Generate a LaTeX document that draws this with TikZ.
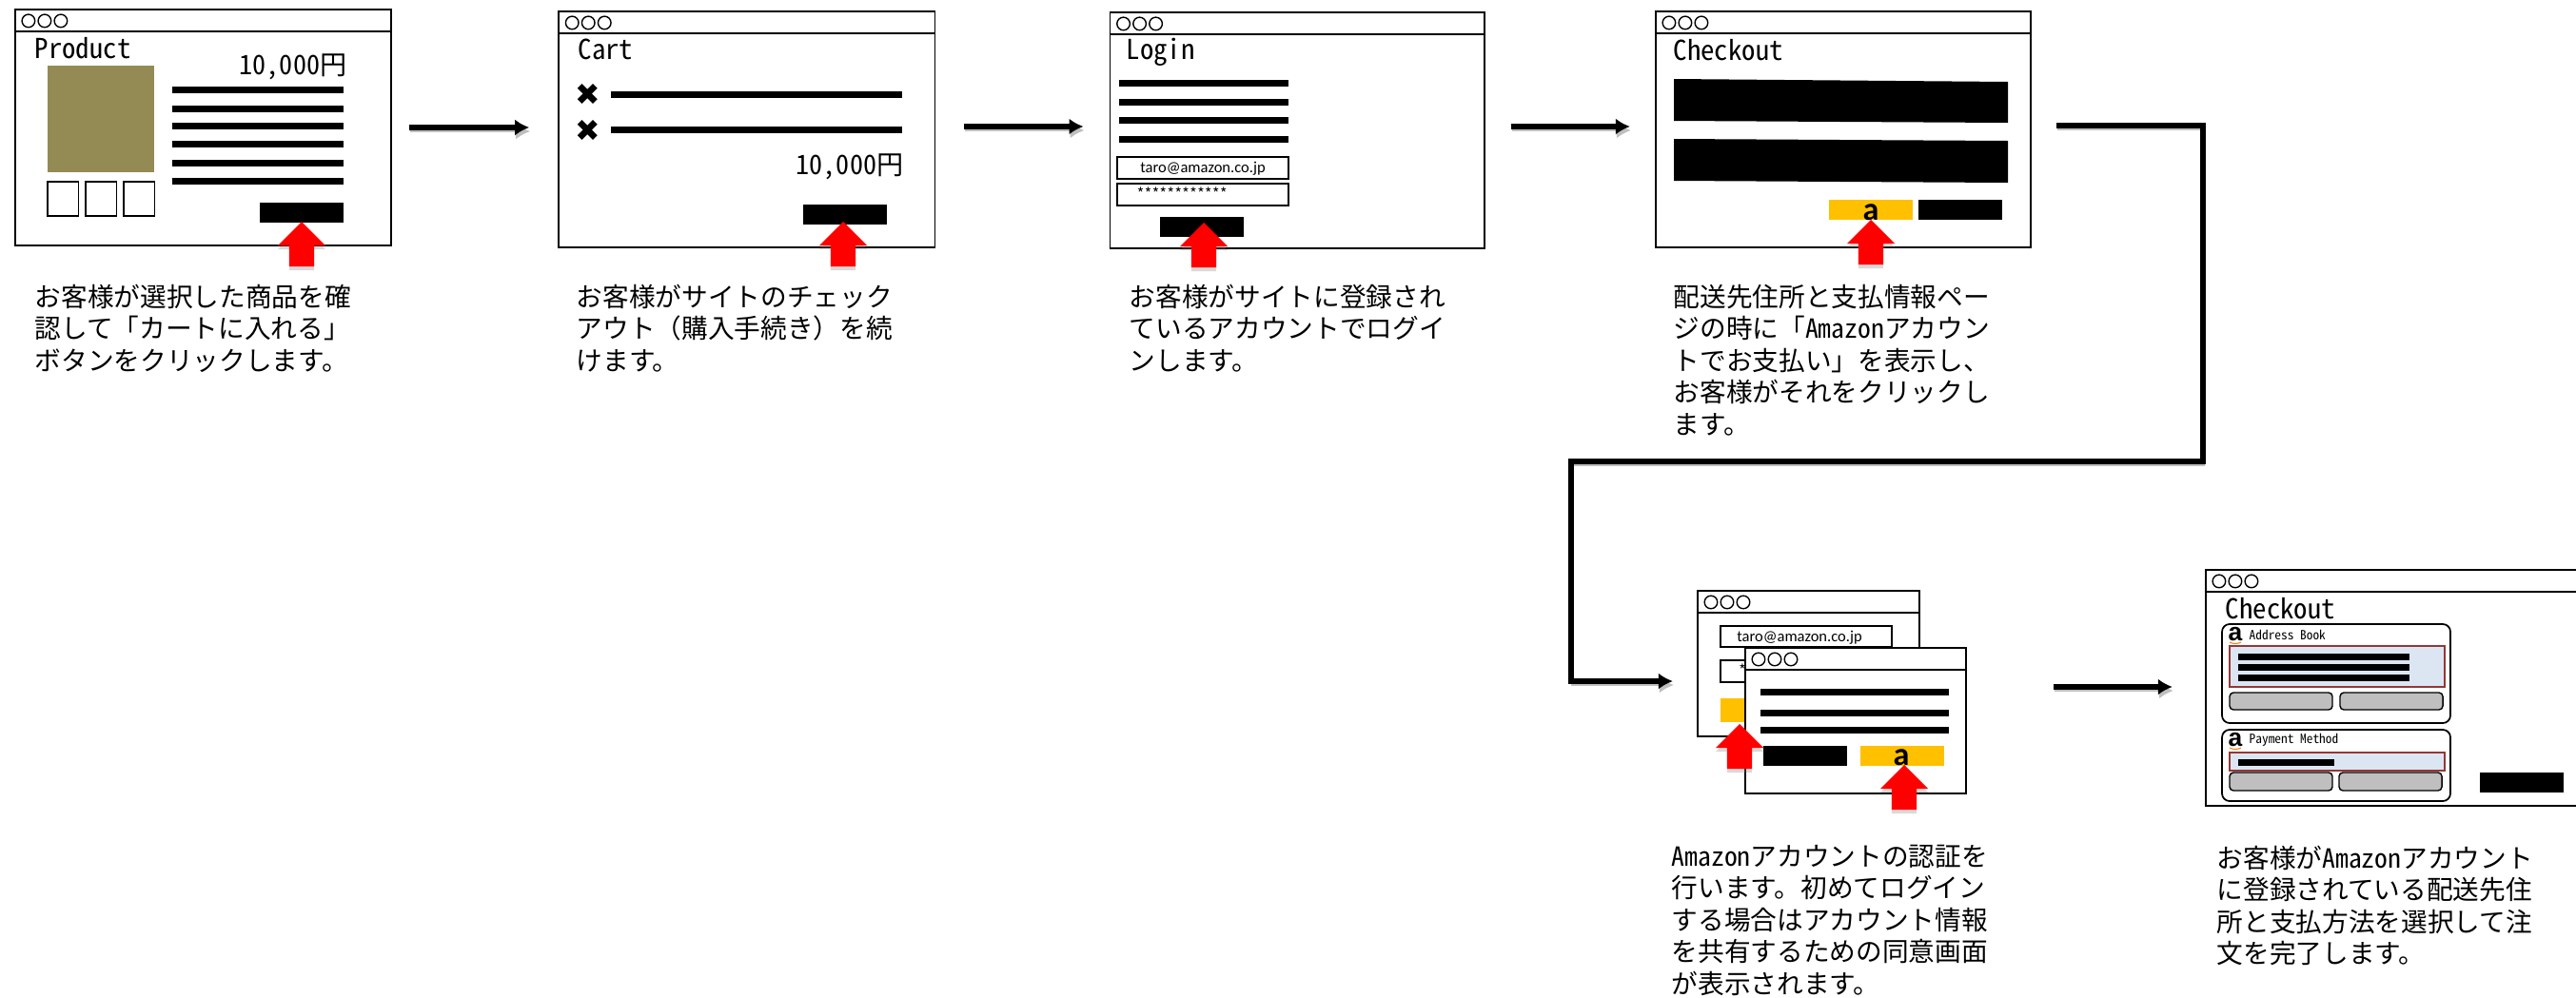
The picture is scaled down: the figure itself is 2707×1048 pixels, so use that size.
\documentclass[tikz,border=0pt]{standalone}
\usepackage{fontspec}
\setmainfont[RawFeature=+hwid]{Noto Sans CJK JP}
\newfontfamily\fullfont{Noto Sans CJK JP}
\newfontfamily\symfont{DejaVu Sans}
\newfontfamily\logofont{Liberation Sans}
\newfontfamily\mailfont{Carlito}
\usetikzlibrary{positioning, arrows.meta, shadows, shapes.arrows}
\definecolor{photo}{HTML}{948B54}
\definecolor{paybtn}{HTML}{FFC000}
\definecolor{picked}{HTML}{DCE6F2}
\definecolor{pickedline}{HTML}{953735}
\definecolor{graybtn}{HTML}{BFBFBF}
\newcommand{\winbar}[1]{%
    \draw[line width=.8pt] ([yshift=-.23cm]#1.north west) -- ([yshift=-.23cm]#1.north east);
    \foreach \dx in {.14,.31,.48}
        \draw[line width=.4pt] ([xshift=\dx cm, yshift=-.12cm]#1.north west) circle (.068cm);
}
\begin{document}
\begin{tikzpicture}[>={Latex[length=.15cm,width=.17cm]}, x=.01cm, y=-.01cm]
    \tikzset{window/.style = {draw, rectangle, fill=white, line width=.45pt, outer sep=0pt, inner sep=0pt,
                              minimum width = 3.95cm, minimum height = 2.48cm},
             title/.style = {anchor=west, inner sep=0pt, font=\fontsize{8.2}{9}\selectfont},
             price/.style = {anchor=east, inner sep=0pt, font=\fontsize{8}{9}\selectfont},
             note/.style = {anchor=north west, inner sep=0pt, align=left, font=\fontsize{7.87}{9.55}\selectfont},
             field/.style = {draw, fill=white, line width=.5pt},
             bar/.style = {line width=.07cm},
             flow/.style = {->, line width=.055cm,
                            preaction={draw=black!25, transform canvas={shift={(.01cm,-.04cm)}}}},
             clickarrow/.style = {single arrow, fill=red, anchor=tip, shape border rotate=90, inner sep=.125cm,
                                  outer sep=0pt, minimum height=.47cm, minimum width=.49cm,
                                  single arrow head extend=.12cm, single arrow head indent=0pt,
                                  drop shadow={shadow xshift=0pt, shadow yshift=-.04cm, opacity=.3}},
             mailtext/.style = {inner sep=0pt, font=\mailfont\fontsize{4.7}{6}\selectfont},
             amzlogo/.style = {inner sep=0pt, font=\logofont\bfseries\fontsize{7.5}{9}\selectfont},
             paymark/.style = {inner sep=0pt, font=\mailfont\bfseries\fontsize{9.7}{10}\selectfont},
             caption/.style = {anchor=west, inner sep=0pt, font=\fontsize{3.8}{5}\selectfont},
             softbtn/.style = {draw, fill=graybtn, rounded corners=.04cm, line width=.4pt},
             panel/.style = {draw, fill=white, rounded corners=.08cm, line width=.5pt},
             pick/.style = {draw=pickedline, fill=picked, line width=.8pt}
            }
    \useasboundingbox (0,0) rectangle (2707,1048);

    \node (product) [window] at (213.5,134) {};
    \node (cart) [window, right=1.76cm of product, yshift=-.02cm] {};
    \node (login) [window, minimum width=3.93cm, right=1.84cm of cart, yshift=-.01cm] {};
    \node (checkout) [window, minimum width=3.94cm, right=1.80cm of login, yshift=.01cm] {};
    \node (authback) [window, minimum width=2.33cm, minimum height=1.53cm] at (1900.5,697.5) {};
    \node (confirm) [window, minimum width=3.94cm] at (2515,723) {};

    \winbar{product}
    \node (producttitle) [title] at (36,51) {Product};
    \fill[photo] (50,69) rectangle (162,181);
    \foreach \x in {50,90,130}
        \draw[line width=.4pt] (\x,191) rectangle ++(32.5,36);
    \node (productprice) [price] at (365,70) {10,000円};
    \foreach \y in {94,114,132,151,171,190}
        \draw[bar] (180.5,\y) -- (361,\y);
    \fill (273,213) rectangle (361,234);
    \node (productclick) [clickarrow] at (317,233) {};
    \node (productnote) [note] at (36,298) {お客様が選択した商品を確\\認して「カートに入れる」\\ボタンをクリックします。};

    \winbar{cart}
    \node (carttitle) [title] at (607,52) {Cart};
    \node (crossA) [inner sep=0pt, font=\symfont\fontsize{9}{10}\selectfont] at (618,99) {✖};
    \node (crossB) [inner sep=0pt, font=\symfont\fontsize{9}{10}\selectfont] at (618,137) {✖};
    \draw[bar] (642,99) -- (948,99);
    \draw[bar] (642,136) -- (948,136);
    \node (cartprice) [price] at (950,175) {10,000円};
    \fill (844,215) rectangle (932,236);
    \node (cartclick) [clickarrow] at (886,233) {};
    \node (cartnote) [note] at (605,298) {お客様がサイトのチェック\\アウト{\fullfont（}購入手続き{\fullfont）}を続\\けます。};

    \winbar{login}
    \node (logintitle) [title] at (1183,55) {Login};
    \foreach \y in {87,107,126,146}
        \draw[bar] (1176,\y) -- (1354,\y);
    \draw[field] (1174,165) rectangle (1354,188);
    \draw[field] (1174,193) rectangle (1354,216);
    \node (loginmail) [mailtext] at (1264,177) {taro@amazon.co.jp};
    \node (loginpass) [anchor=west, inner sep=0pt, font=\fontsize{4.5}{6}\selectfont] at (1194,203) {************};
    \fill (1219,228) rectangle (1307,249);
    \node (loginclick) [clickarrow] at (1265,234) {};
    \node (loginnote) [note] at (1186,298) {お客様がサイトに登録され\\ているアカウントでログイ\\ンします。};

    \winbar{checkout}
    \node (checkouttitle) [title] at (1758,53) {Checkout};
    \fill (1759,83) -- (2110,86) -- (2110,129) -- (1759,127) -- cycle;
    \fill (1759,146) -- (2110,148) -- (2110,192) -- (1759,190) -- cycle;
    \fill[paybtn] (1922,210) rectangle (2010,231);
    \fill (2016,210) rectangle (2104,231);
    \node (checkoutpay) [paymark] at (1966,223) {a};
    \node (checkoutclick) [clickarrow] at (1966,231) {};
    \node (checkoutnote) [note] at (1758,298) {配送先住所と支払情報ペー\\ジの時に「Amazonアカウン\\トでお支払い」を表示し、\\お客様がそれをクリックし\\ます。};

    \winbar{authback}
    \draw[field] (1808,658) rectangle (1988,680);
    \node (authmail) [mailtext] at (1891,670) {taro@amazon.co.jp};
    \draw[field] (1808,694) rectangle (1988,717);
    \node (authpass) [inner sep=0pt, font=\fontsize{4.5}{6}\selectfont] at (1831,704) {*};
    \fill[paybtn] (1808,734) rectangle (1896,759);
    \node (consent) [window, minimum width=2.32cm, minimum height=1.53cm] at (1950,757.5) {};
    \winbar{consent}
    \foreach \y in {727,749,767}
        \draw[bar] (1850,\y) -- (2048,\y);
    \fill (1853,784) rectangle (1941,805);
    \fill[paybtn] (1955,784) rectangle (2043,805);
    \node (consentpay) [paymark] at (1998,796) {a};
    \node (authclick) [clickarrow] at (1828,761) {};
    \node (consentclick) [clickarrow] at (2001,804) {};
    \node (authnote) [note] at (1756,887) {Amazonアカウントの認証を\\行います。初めてログイン\\する場合はアカウント情報\\を共有するための同意画面\\が表示されます。};

    \winbar{confirm}
    \node (confirmtitle) [title] at (2338,640) {Checkout};
    \draw[panel] (2335,656) rectangle (2575,760);
    \node (logoA) [amzlogo] at (2349,667) {a};
    \draw[orange, line width=.3pt] (2343,675) .. controls (2347,677) and (2351,677) .. (2355,675);
    \node (addressbook) [caption] at (2363,667) {Address Book};
    \draw[pick] (2343,679) rectangle (2569,722);
    \foreach \y in {690,701,712}
        \draw[bar] (2352,\y) -- (2532,\y);
    \draw[softbtn] (2343,728) rectangle (2451,746);
    \draw[softbtn] (2459,728) rectangle (2567,746);
    \draw[panel] (2335,767) rectangle (2575,842);
    \node (logoB) [amzlogo] at (2349,778) {a};
    \draw[orange, line width=.3pt] (2343,786) .. controls (2347,788) and (2351,788) .. (2355,786);
    \node (paymethod) [caption] at (2363,778) {Payment Method};
    \draw[pick] (2343,791) rectangle (2569,810);
    \draw[bar] (2352,801) -- (2453,801);
    \draw[softbtn] (2343,812) rectangle (2451,831);
    \draw[softbtn] (2458,812) rectangle (2566,831);
    \fill (2606,812) rectangle (2694,833);
    \node (confirmnote) [note] at (2329,888) {お客様がAmazonアカウント\\に登録されている配送先住\\所と支払方法を選択して注\\文を完了します。};

    \coordinate (bendA) at (2315,132);
    \coordinate (bendB) at (2315,485);
    \coordinate (bendC) at (1651,485);
    \draw[flow, shorten <=.19cm, shorten >=.31cm] (product.east) -- (product.east -| cart.west);
    \draw[flow, shorten <=.31cm, shorten >=.28cm] ([yshift=.03cm]cart.east) -- ([yshift=.03cm]cart.east -| login.west);
    \draw[flow, shorten <=.28cm, shorten >=.27cm] ([yshift=.04cm]login.east) -- ([yshift=.04cm]login.east -| checkout.west);
    \draw[flow, line width=.065cm, shorten <=.27cm, line join=miter, shorten >=.26cm] (checkout.east |- bendA) -- (bendA) -- (bendB) -- (bendC) |- ([yshift=-.185cm]authback.west);
    \draw[flow, shorten <=.92cm, shorten >=.35cm] ([yshift=.355cm]consent.east) -- ([yshift=.355cm]consent.east -| confirm.west);
\end{tikzpicture}
\end{document}
